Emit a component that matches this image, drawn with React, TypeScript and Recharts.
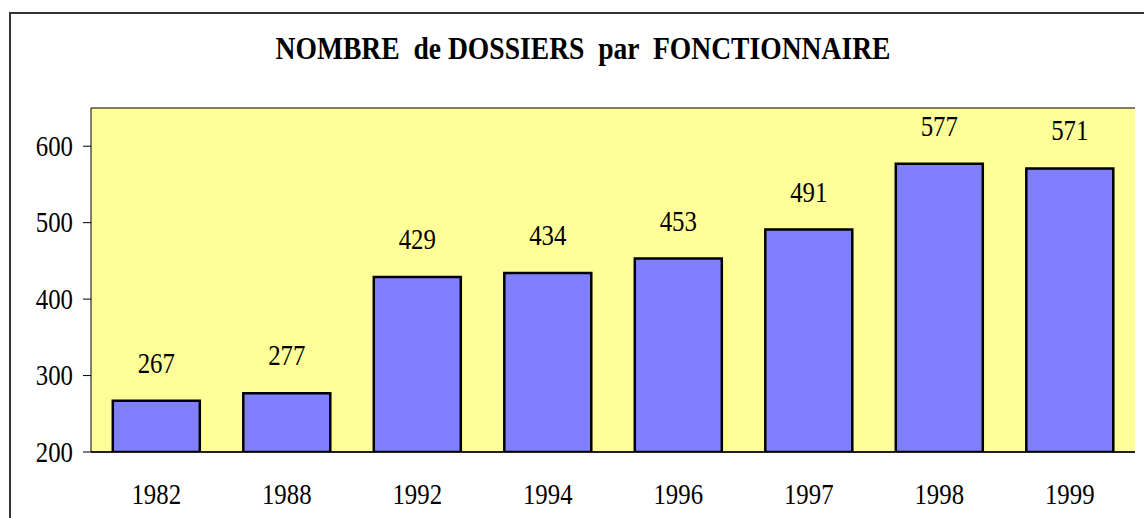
import React from 'react';
import { BarChart, Bar, XAxis, YAxis, CartesianGrid, LabelList } from 'recharts';

const years = ['1982', '1988', '1992', '1994', '1996', '1997', '1998', '1999'];
const dossiers = [267, 277, 429, 434, 453, 491, 577, 571];
const yTicks = [200, 300, 400, 500, 600];
const yDomain = [200, 650];
const boundaryTicks = [0, 1, 2, 3, 4, 5, 6, 7, 8];
const title = 'NOMBRE  de DOSSIERS  par  FONCTIONNAIRE';

const data = years.map((y, i) => ({ year: y, value: dossiers[i], pos: i }));

const FONT = "'Liberation Serif', 'Times New Roman', Times, serif";
const DIGIT_W = 12.4;

const SText = ({ x, y, anchor, children }: any) => {
  const s = String(children);
  return (
    <text
      x={x}
      y={y}
      textAnchor={anchor}
      style={{ fontFamily: FONT, fontSize: 29 }}
      fill="#000"
      textLength={s.length * DIGIT_W}
      lengthAdjust="spacingAndGlyphs"
    >
      {s}
    </text>
  );
};

const YTick = (props: any) => {
  const { x, y, payload } = props;
  return <SText x={x} y={y + 9.5} anchor="end">{payload.value}</SText>;
};

const XTick = (props: any) => {
  const { x, y, payload } = props;
  return <SText x={x} y={y + 36} anchor="middle">{payload.value}</SText>;
};

const BarLabel = (props: any) => {
  const { x, y, width, value } = props;
  return <SText x={x + width / 2} y={y - 28} anchor="middle">{value}</SText>;
};

export default function App() {
  return (
    <div style={{ position: 'absolute', left: 0, top: 0, width: 1144, height: 518, overflow: 'hidden', background: '#fff' }}>
      <div
        style={{
          position: 'absolute',
          left: 9,
          top: 12,
          width: 1160,
          height: 530,
          border: '2px solid #333',
          boxSizing: 'border-box',
        }}
      />
      <svg width={1144} height={100} style={{ position: 'absolute', left: 0, top: 0 }}>
        <text
          x={583}
          y={59}
          textAnchor="middle"
          fill="#000"
          textLength={615}
          lengthAdjust="spacingAndGlyphs"
          style={{ whiteSpace: 'pre', fontFamily: FONT, fontWeight: 'bold', fontSize: 31 }}
        >
          {title}
        </text>
      </svg>
      <div style={{ position: 'absolute', left: 0, top: 0 }}>
        <BarChart
          width={1144}
          height={518}
          data={data}
          margin={{ top: 108, right: 9, bottom: 6, left: 11 }}
          barCategoryGap="16.7%"
        >
          <CartesianGrid vertical={false} fill="#ffff99" stroke="#000" strokeWidth={1} />
          <XAxis
            xAxisId="bounds"
            type="number"
            dataKey="pos"
            domain={[0, 8]}
            ticks={boundaryTicks}
            allowDataOverflow
            height={8}
            tickSize={8}
            tick={false}
            tickLine={{ stroke: '#000', strokeWidth: 1 }}
            axisLine={{ stroke: '#000', strokeWidth: 1.5 }}
          />
          <XAxis
            xAxisId="cat"
            dataKey="year"
            height={52}
            tickLine={false}
            axisLine={false}
            tick={<XTick />}
            interval={0}
          />
          <XAxis
            xAxisId="top"
            orientation="top"
            dataKey="year"
            height={0}
            tick={false}
            tickLine={false}
            axisLine={{ stroke: '#808080', strokeWidth: 3 }}
          />
          <YAxis
            yAxisId="left"
            domain={yDomain}
            ticks={yTicks}
            allowDataOverflow
            width={80}
            tickSize={8}
            tickMargin={10}
            tick={<YTick />}
            tickLine={{ stroke: '#000', strokeWidth: 1 }}
            axisLine={{ stroke: '#000', strokeWidth: 1 }}
          />
          <YAxis
            yAxisId="right"
            orientation="right"
            domain={yDomain}
            width={0}
            tick={false}
            tickLine={false}
            axisLine={{ stroke: '#808080', strokeWidth: 3 }}
          />
          <Bar
            dataKey="value"
            xAxisId="cat"
            yAxisId="left"
            fill="#8080ff"
            stroke="#000"
            strokeWidth={2.5}
            isAnimationActive={false}
          >
            <LabelList dataKey="value" content={<BarLabel />} />
          </Bar>
        </BarChart>
      </div>
    </div>
  );
}
